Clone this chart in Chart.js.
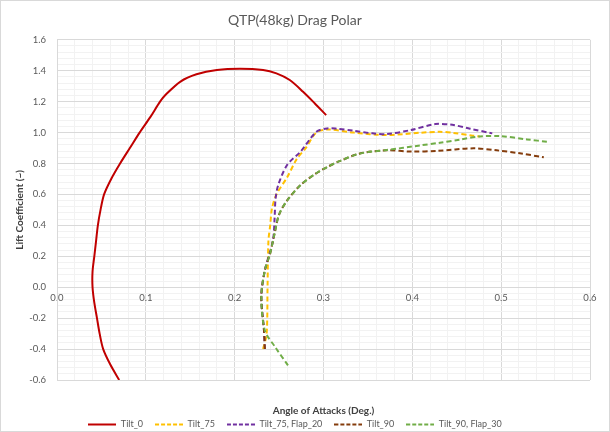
<!DOCTYPE html>
<html>
<head>
<meta charset="utf-8">
<script src="https://cdn.jsdelivr.net/npm/chart.js@4"></script>
<style>
html, body { margin: 0; padding: 0; background: #fff; }
#wrap { width: 610px; height: 432px; }
</style>
</head>
<body>
<div id="wrap"><canvas id="polar" width="610" height="432"></canvas></div>
<script>
// values
const chartTitle = 'QTP(48kg) Drag Polar';
const seriesNames = ['Tilt_0', 'Tilt_75', 'Tilt_75, Flap_20', 'Tilt_90', 'Tilt_90, Flap_30'];

const tilt0X = [0.070, 0.060, 0.052, 0.048, 0.045, 0.042, 0.040, 0.040, 0.042, 0.044, 0.046, 0.049, 0.053, 0.061, 0.071, 0.082, 0.093, 0.105, 0.116, 0.122, 0.139, 0.157, 0.180, 0.206, 0.232, 0.247, 0.262, 0.277, 0.290, 0.303];
const tilt0Y = [-0.60, -0.50, -0.40, -0.30, -0.20, -0.10, 0.00, 0.10, 0.20, 0.30, 0.40, 0.50, 0.60, 0.70, 0.80, 0.90, 1.00, 1.10, 1.20, 1.243, 1.33, 1.377, 1.405, 1.413, 1.405, 1.383, 1.34, 1.264, 1.19, 1.113];

const tilt75X = [0.232, 0.236, 0.237, 0.238, 0.240, 0.242, 0.247, 0.259, 0.270, 0.280, 0.292, 0.305, 0.334, 0.371, 0.409, 0.431, 0.446, 0.468, 0.476];
const tilt75Y = [-0.40, -0.30, 0.00, 0.30, 0.40, 0.51, 0.60, 0.71, 0.83, 0.90, 1.00, 1.02, 1.00, 0.984, 0.999, 1.005, 0.998, 0.980, 0.975];

const tilt75f20X = [0.234, 0.233, 0.230, 0.234, 0.243, 0.245, 0.246, 0.249, 0.259, 0.274, 0.292, 0.304, 0.315, 0.334, 0.355, 0.371, 0.398, 0.426, 0.445, 0.465, 0.490];
const tilt75f20Y = [-0.40, -0.28, -0.06, 0.11, 0.30, 0.45, 0.57, 0.66, 0.79, 0.876, 1.005, 1.027, 1.025, 1.012, 0.995, 0.990, 1.016, 1.055, 1.050, 1.025, 0.995];

const tilt90X = [0.234, 0.233, 0.230, 0.234, 0.240, 0.245, 0.250, 0.259, 0.274, 0.290, 0.305, 0.318, 0.341, 0.371, 0.400, 0.428, 0.469, 0.495, 0.521, 0.548];
const tilt90Y = [-0.40, -0.28, -0.06, 0.11, 0.22, 0.35, 0.47, 0.56, 0.66, 0.73, 0.78, 0.815, 0.865, 0.885, 0.877, 0.882, 0.898, 0.885, 0.866, 0.840];

const tilt90f30X = [0.260, 0.246, 0.234, 0.230, 0.234, 0.240, 0.245, 0.250, 0.259, 0.274, 0.290, 0.305, 0.318, 0.341, 0.371, 0.409, 0.431, 0.454, 0.476, 0.499, 0.529, 0.553];
const tilt90f30Y = [-0.505, -0.39, -0.28, -0.06, 0.11, 0.22, 0.35, 0.47, 0.56, 0.66, 0.73, 0.78, 0.815, 0.865, 0.887, 0.917, 0.934, 0.955, 0.975, 0.977, 0.956, 0.940];

const colors = ['#C00000', '#FFC000', '#7030A0', '#843C0C', '#70AD47'];

const toPoints = (xs, ys) => xs.map((x, i) => ({ x: x, y: ys[i] }));
const allX = [tilt0X, tilt75X, tilt75f20X, tilt90X, tilt90f30X];
const allY = [tilt0Y, tilt75Y, tilt75f20Y, tilt90Y, tilt90f30Y];

const datasets = seriesNames.map((name, i) => ({
  label: name,
  data: toPoints(allX[i], allY[i]),
  borderColor: colors[i],
  backgroundColor: colors[i],
  borderWidth: 2,
  borderDash: i === 0 ? [] : [5, 3],
  pointRadius: 0,
  showLine: true,
  tension: 0.3,
  order: 5 - i
}));

// little line samples for the legend (solid or dashed)
const legendSample = (color, dashed) => {
  const cv = document.createElement('canvas');
  cv.width = 28;
  cv.height = 4;
  const c = cv.getContext('2d');
  c.strokeStyle = color;
  c.lineWidth = 2;
  c.setLineDash(dashed ? [4, 2] : []);
  c.beginPath();
  c.moveTo(0, 2);
  c.lineTo(28, 2);
  c.stroke();
  return cv;
};

const isMajor = (v, step) => Math.abs(Math.round(v * 100)) % step === 0;
const fontFam = 'Lato, "Open Sans", sans-serif';
const legendHeight = 22;

const frame = {
  id: 'frame',
  beforeInit(chart) {
    // legend keeps its item spacing but takes less height
    const fit = chart.legend.fit;
    chart.legend.fit = function () {
      fit.call(this);
      this.height = legendHeight;
    };
  },
  beforeDraw(chart) {
    const c = chart.ctx;
    c.save();
    c.fillStyle = '#fff';
    c.fillRect(0, 0, chart.width, chart.height);
    c.restore();
  },
  afterDraw(chart) {
    const c = chart.ctx;
    c.save();
    c.strokeStyle = '#D9D9D9';
    c.lineWidth = 1;
    c.strokeRect(0.5, 0.5, chart.width - 1, chart.height - 1);
    c.restore();
  }
};

new Chart(document.getElementById('polar'), {
  type: 'scatter',
  data: { datasets: datasets },
  plugins: [frame],
  options: {
    responsive: false,
    animation: false,
    layout: { padding: { left: 0, right: 20, top: 0, bottom: 2 } },
    plugins: {
      title: {
        display: true,
        text: chartTitle,
        color: '#595959',
        font: { family: fontFam, size: 14, weight: 'normal' },
        padding: { top: 12, bottom: 11 }
      },
      legend: {
        position: 'bottom',
        labels: {
          usePointStyle: true,
          pointStyleWidth: 28,
          color: '#595959',
          font: { family: fontFam, size: 9 },
          padding: 12,
          sort: (a, b) => a.datasetIndex - b.datasetIndex,
          generateLabels: chart => Chart.defaults.plugins.legend.labels.generateLabels(chart).map(item => {
            item.pointStyle = legendSample(colors[item.datasetIndex], item.datasetIndex !== 0);
            return item;
          })
        }
      },
      tooltip: { enabled: false }
    },
    scales: {
      x: {
        type: 'linear',
        position: { y: 0 },
        min: 0,
        max: 0.6,
        grid: {
          drawTicks: false,
          color: ctx => isMajor(ctx.tick.value, 10) ? '#D9D9D9' : '#F2F2F2'
        },
        border: { color: '#D9D9D9' },
        ticks: {
          stepSize: 0.02,
          autoSkip: false,
          maxRotation: 0,
          padding: 5,
          color: '#595959',
          font: { family: fontFam, size: 9.5 },
          callback: v => isMajor(v, 10) ? v.toFixed(1) : ''
        }
      },
      x2: {
        type: 'linear',
        position: 'bottom',
        min: 0,
        max: 0.6,
        grid: { display: false },
        border: { display: false },
        ticks: { display: false },
        title: {
          display: true,
          text: 'Angle of Attacks (Deg.)',
          color: '#404040',
          font: { family: fontFam, size: 10, weight: 'bold' },
          padding: { top: 17, bottom: -9 }
        }
      },
      y: {
        type: 'linear',
        min: -0.6,
        max: 1.6,
        afterFit: s => { s.width = 57; },
        grid: {
          drawTicks: false,
          color: ctx => isMajor(ctx.tick.value, 20) ? '#D9D9D9' : '#F2F2F2'
        },
        border: { color: '#D9D9D9' },
        ticks: {
          stepSize: 0.04,
          autoSkip: false,
          padding: 11,
          color: '#595959',
          font: { family: fontFam, size: 9.5 },
          callback: v => isMajor(v, 20) ? v.toFixed(1) : ''
        },
        title: {
          display: true,
          text: 'Lift Coefficient (~)',
          color: '#404040',
          font: { family: fontFam, size: 10, weight: 'bold' },
          padding: { top: 14, bottom: 0 }
        }
      }
    }
  }
});
</script>
</body>
</html>
